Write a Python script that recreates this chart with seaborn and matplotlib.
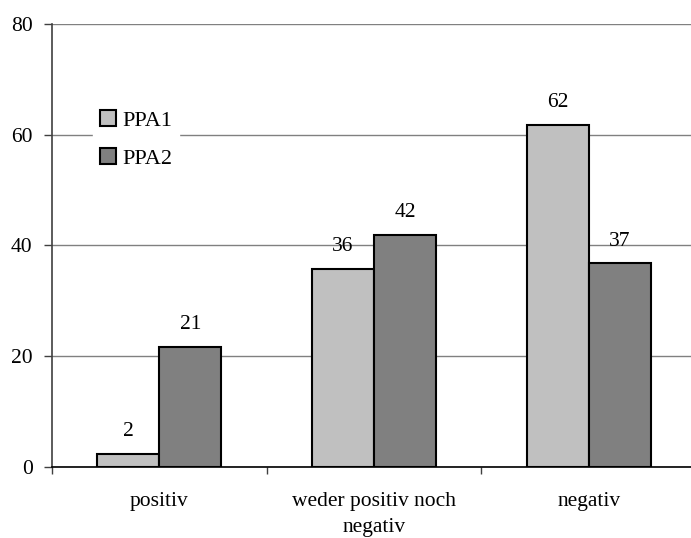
import matplotlib
matplotlib.use("Agg")
import matplotlib.pyplot as plt
import seaborn as sns
import pandas as pd
from matplotlib.ticker import FixedLocator

categories = ["positiv", "weder positiv noch\nnegativ", "negativ"]
series = ["PPA1", "PPA2"]
ppa1 = [2.4, 35.8, 61.8]
ppa2 = [21.7, 41.9, 36.8]
labels1 = ["2", "36", "62"]
labels2 = ["21", "42", "37"]
yticks = [0, 20, 40, 60, 80]

df = pd.DataFrame({
    "Kategorie": categories * 2,
    "Serie": [series[0]] * 3 + [series[1]] * 3,
    "Wert": ppa1 + ppa2,
})

sns.set_theme(style="white")
plt.rcParams["font.family"] = ["Liberation Serif", "DejaVu Serif"]
plt.rcParams["text.color"] = "black"
plt.rcParams["xtick.color"] = "black"
plt.rcParams["ytick.color"] = "black"

fig = plt.figure(figsize=(6.91, 5.38), dpi=100)
ax = fig.add_axes([52 / 691, 71 / 538, 644 / 691, 443 / 538])

sns.barplot(data=df, x="Kategorie", y="Wert", hue="Serie", order=categories,
            hue_order=series, palette=["#C0C0C0", "#808080"], width=0.577,
            edgecolor="black", linewidth=1.5, saturation=1, ax=ax, zorder=3)

ax.set_ylim(0, 80)
ax.set_xlim(-0.5, 2.5)
ax.set_yticks(yticks)
ax.yaxis.grid(True, color="#808080", linewidth=1.0, zorder=0)
ax.set_axisbelow(True)
ax.set_xlabel("")
ax.set_ylabel("")

for c, labs in zip(ax.containers, [labels1, labels2]):
    ax.bar_label(c, labels=labs, padding=9, fontsize=15.5)

ax.xaxis.set_minor_locator(FixedLocator([-0.5, 0.5, 1.5, 2.5]))
ax.tick_params(axis="x", which="major", length=0, labelsize=15.5, pad=18)
ax.tick_params(axis="x", which="minor", length=5, width=1, color="#404040",
               direction="out", bottom=True)
ax.tick_params(axis="y", length=6, width=1, color="#404040", direction="out",
               left=True, labelsize=15.5, pad=8)
for t in ax.get_xticklabels():
    t.set_linespacing(1.5)

for s in ["top", "right"]:
    ax.spines[s].set_visible(False)
ax.spines["left"].set_color("#404040")
ax.spines["left"].set_linewidth(1.2)
ax.spines["bottom"].set_color("black")
ax.spines["bottom"].set_linewidth(1.2)

leg = ax.legend(loc="upper left", bbox_to_anchor=(0.064, 0.82), frameon=True,
                facecolor="white", edgecolor="white", fancybox=False,
                handlelength=0.72, handleheight=0.72, handletextpad=0.3,
                labelspacing=0.78, fontsize=16, borderpad=0.3,
                borderaxespad=0)
leg.get_frame().set_alpha(1)
for h in leg.legend_handles:
    h.set_edgecolor("black")
    h.set_linewidth(1.5)

fig.savefig("out.png", dpi=100)
